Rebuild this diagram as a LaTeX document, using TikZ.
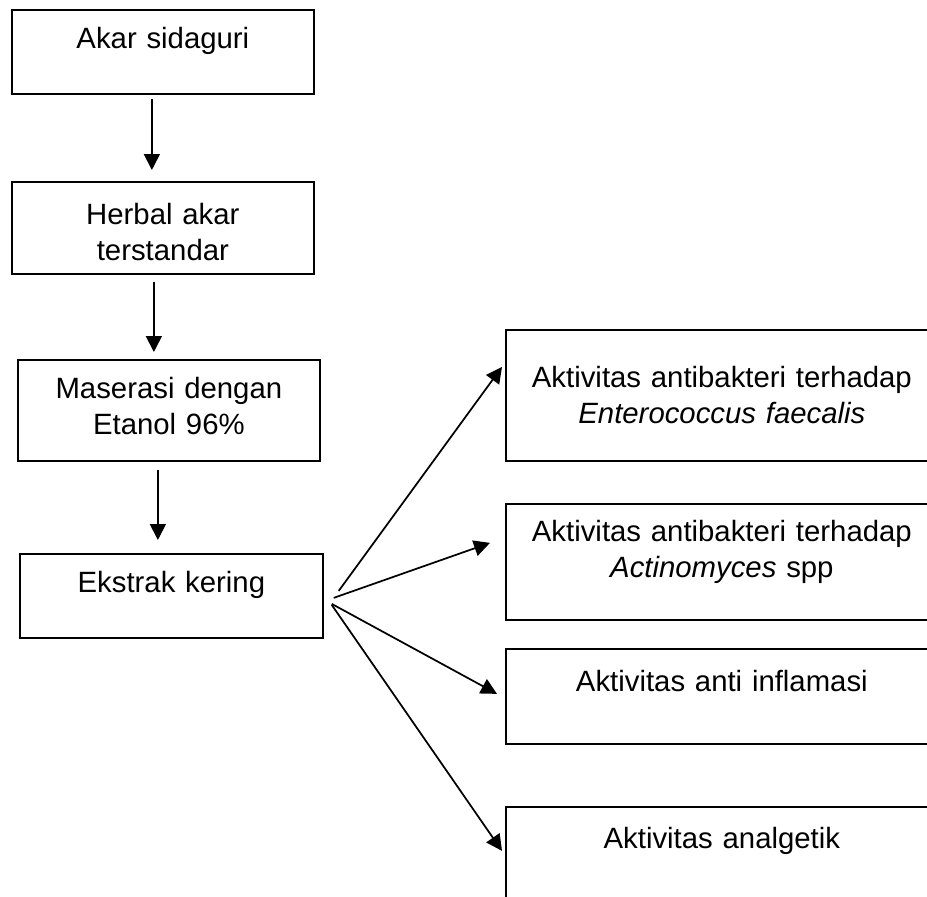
\documentclass[tikz,border=0pt]{standalone}
\usepackage{fontspec}
\setmainfont{Liberation Sans}
\usetikzlibrary{positioning,arrows.meta}
\tikzset{
  kotak/.style={draw,line width=1.3pt,anchor=north west,inner xsep=0pt,inner ysep=0pt,align=center},
  kiri/.style={kotak,text width=226.5pt},
  kanan/.style={kotak,text width=324pt},
  panah/.style={-{Triangle[length=12pt,width=12pt]},line width=1.3pt},
}
\begin{document}
\begin{tikzpicture}[x=0.75pt,y=-0.75pt,font=\fontsize{22}{27}\selectfont]
\clip (0,0) rectangle (927,896);
% alur kiri
\node[kiri,text height=29.25pt,text depth=33.75pt] (akar) at (11,9) {Akar sidaguri};
\node[kiri,text height=32.25pt,text depth=36.75pt] (herbal) at (11,181) {Herbal akar\\terstandar};
\node[kiri,text height=29.25pt,text depth=46.5pt] (maserasi) at (17,359) {Maserasi dengan\\Etanol 96\%};
\node[kiri,text width=227.25pt,text height=29.25pt,text depth=33.75pt] (ekstrak) at (19,553) {Ekstrak kering};
% aktivitas
\node[kanan,text height=43.5pt,text depth=54.75pt] (aktA) at (505,329) {Aktivitas antibakteri terhadap\\\textit{Enterococcus faecalis}};
\node[kanan,text height=28.5pt,text depth=58.5pt] (aktB) at (505,503) {Aktivitas antibakteri terhadap\\\textit{Actinomyces} spp};
\node[kanan,text height=32.25pt,text depth=39pt] (aktC) at (505,648) {Aktivitas anti inflamasi};
\node[kanan,text height=31.5pt,text depth=43.5pt] (aktD) at (505,806) {Aktivitas analgetik};

\draw[panah] ([shift={(-11,4)}]akar.south) -- ([shift={(-11,-11)}]herbal.north);
\draw[panah] ([shift={(-9,7)}]herbal.south) -- ([shift={(-15,-7)}]maserasi.north);
\draw[panah] ([shift={(-11,8)}]maserasi.south) -- ([shift={(-13.5,-13)}]ekstrak.north);

\draw[panah] ([shift={(15,-5)}]ekstrak.east) -- ([shift={(-3,-28.5)}]aktA.west);
\draw[panah] ([shift={(10,2)}]ekstrak.east) -- ([shift={(-15,-19)}]aktB.west);
\draw[panah] ([shift={(8,8)}]ekstrak.east) -- ([shift={(-8,-2.5)}]aktC.west);
\draw[panah] ([shift={(8,9)}]ekstrak.east) -- ([shift={(-3,-6)}]aktD.west);
\end{tikzpicture}
\end{document}
